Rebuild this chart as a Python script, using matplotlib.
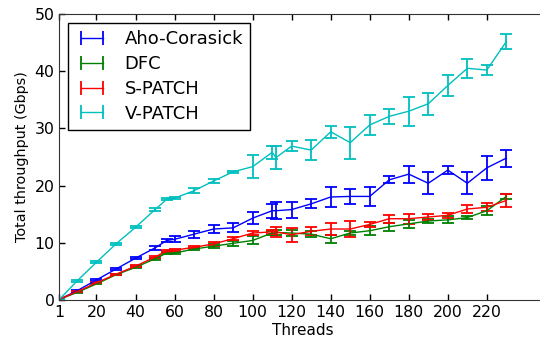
import matplotlib
matplotlib.use("Agg")
import matplotlib.pyplot as plt
from matplotlib.lines import Line2D

threads = [1, 10, 20, 30, 40, 50, 56, 60, 70, 80, 90, 100, 110, 112, 120,
           130, 140, 150, 160, 170, 180, 190, 200, 210, 220, 230]

aho = [0.1, 1.6, 3.5, 5.4, 7.3, 9.1, 10.4, 10.6, 11.5, 12.4, 12.6, 14.3, 15.6,
       15.6, 15.8, 16.8, 18.0, 18.1, 18.1, 21.0, 22.0, 20.4, 22.7, 20.4, 23.1, 24.8]
aho_err = [0.1, 0.1, 0.2, 0.2, 0.2, 0.3, 0.3, 0.5, 0.6, 0.7, 0.8, 1.0, 1.2,
           1.5, 1.4, 0.8, 1.8, 1.3, 1.6, 0.6, 1.5, 1.9, 0.7, 1.9, 2.1, 1.5]

dfc = [0.1, 1.3, 2.8, 4.4, 5.7, 7.2, 8.2, 8.2, 8.9, 9.4, 9.9, 10.4, 11.7,
       11.8, 11.7, 11.5, 10.7, 11.7, 12.1, 12.8, 13.3, 13.8, 14.0, 14.4, 15.6, 18.1]
dfc_err = [0.1, 0.1, 0.1, 0.1, 0.2, 0.2, 0.2, 0.2, 0.2, 0.3, 0.4, 0.7, 0.4,
           0.4, 0.5, 0.5, 0.7, 0.4, 0.8, 0.7, 0.7, 0.4, 0.6, 0.3, 0.8, 0.4]

spatch = [0.1, 1.45, 3.0, 4.5, 5.9, 7.5, 8.6, 8.7, 9.2, 9.8, 10.7, 11.7, 11.9,
          11.9, 11.4, 12.0, 12.4, 12.4, 13.2, 14.2, 14.2, 14.5, 14.8, 15.9, 16.2, 17.4]
spatch_err = [0.1, 0.1, 0.1, 0.1, 0.2, 0.2, 0.2, 0.2, 0.2, 0.3, 0.3, 0.3, 0.3,
              0.9, 1.2, 0.7, 1.0, 1.4, 0.5, 0.7, 0.9, 0.6, 0.4, 0.7, 0.7, 1.2]

vpatch = [0.1, 3.3, 6.6, 9.8, 12.7, 15.8, 17.6, 17.8, 19.1, 20.8, 22.4, 23.3, 25.8,
          24.9, 26.9, 26.2, 29.4, 27.5, 30.6, 32.1, 33.0, 34.3, 37.5, 40.5, 40.2, 45.2]
vpatch_err = [0.1, 0.2, 0.2, 0.2, 0.2, 0.3, 0.2, 0.2, 0.4, 0.3, 0.2, 2.0, 1.2,
              2.0, 0.9, 1.8, 1.1, 2.8, 1.75, 1.35, 2.5, 1.95, 1.8, 1.7, 0.8, 1.3]

names = ["Aho-Corasick", "DFC", "S-PATCH", "V-PATCH"]
colors = ["b", "g", "r", "c"]
xticks = [1, 20, 40, 60, 80, 100, 120, 140, 160, 180, 200, 220]

plt.rcParams["font.family"] = "DejaVu Sans"
plt.rcParams["font.size"] = 11

fig = plt.figure(figsize=(5.4, 3.37), dpi=100)
ax = fig.add_axes([0.11, 0.11, 0.9, 0.8485])

series = [(aho, aho_err), (dfc, dfc_err), (spatch, spatch_err), (vpatch, vpatch_err)]
for (vals, errs), col in zip(series, colors):
    ax.errorbar(threads, vals, yerr=errs, color=col, lw=1.0, elinewidth=1.3,
                capsize=4, capthick=1.3)

ax.set_xlim(1, 250)
ax.set_ylim(0, 50)
ax.set_xticks(xticks)
ax.set_yticks(range(0, 51, 10))
ax.tick_params(direction="in", top=True, right=False, length=4, width=1,
               labelsize=11.3)
ax.spines["right"].set_visible(False)
for s in ["left", "top", "bottom"]:
    ax.spines[s].set_color("#333333")
ax.set_xlabel("Threads", labelpad=2)
ax.set_ylabel("Total throughput (Gbps)", fontsize=10.4)

handles = [Line2D([], [], color=c, lw=1.0, marker="|", markersize=10, mew=1.3)
           for c in colors]
leg = ax.legend(handles, names, loc="upper left", numpoints=2, fancybox=False,
                framealpha=1, edgecolor="black", handlelength=1.8,
                handletextpad=0.9, borderaxespad=0.5, labelspacing=0.38,
                fontsize=13, borderpad=0.4)
leg.get_frame().set_linewidth(1.0)

fig.savefig("out.png", dpi=100)
